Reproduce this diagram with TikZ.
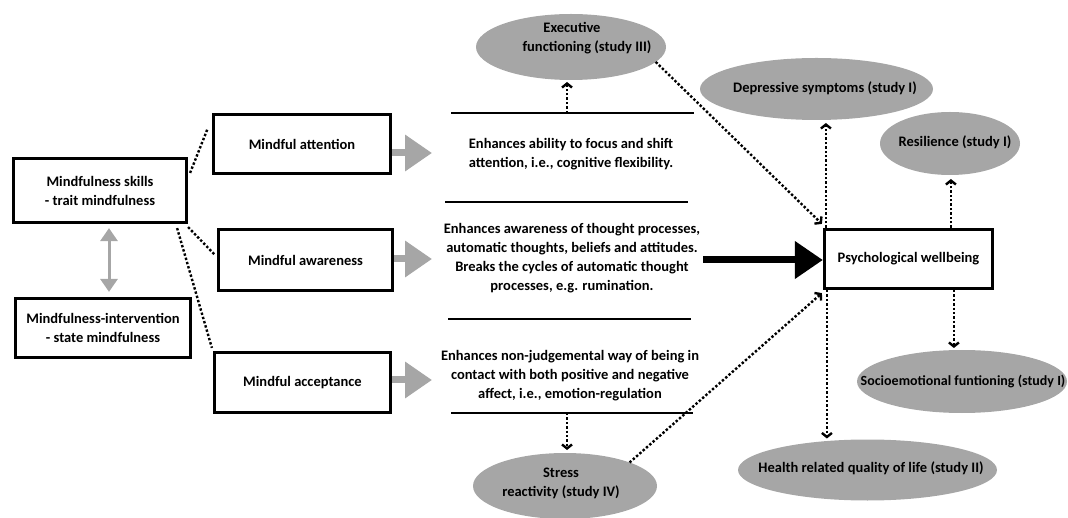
\documentclass[tikz,border=0pt]{standalone}
\usepackage{fontspec}
\setmainfont{Carlito}
\usetikzlibrary{arrows.meta,shapes.geometric,calc}
\definecolor{ggray}{HTML}{A6A6A6}
\begin{document}
\begin{tikzpicture}[x=1pt,y=-1pt,
  font=\bfseries\fontsize{14.5}{19}\selectfont,
  box/.style={draw, line width=3.2pt, align=center, inner sep=0pt},
  ell/.style={ellipse, fill=ggray, draw=none, inner sep=0pt, outer sep=0pt},
  txt/.style={align=center, inner sep=0pt},
  hline/.style={line width=2.8pt},
  dotline/.style={dotted, line width=2.4pt},
  dotarrow/.style={dotted, line width=2.4pt, -{Straight Barb[length=4pt,width=10pt]}},
  grayarrow/.style={ggray, line width=7pt, -{Triangle[length=27pt,width=35pt]}},
  dblarrow/.style={ggray, line width=3pt, {Triangle[length=13pt,width=17pt]}-{Triangle[length=13pt,width=17pt]}},
  bigarrow/.style={black, line width=7pt, -{Triangle[length=28pt,width=36pt]}}
]
\useasboundingbox (0,0) rectangle (1068,518);

% boxes
\node[box, minimum width=173pt, minimum height=64pt] (skills) at (100,190.5) {Mindfulness skills\\- trait mindfulness};
\node[box, minimum width=175pt, minimum height=59pt] (interv) at (103,328) {Mindfulness-intervention\\- state mindfulness};
\node[box, minimum width=177pt, minimum height=59pt] (attn) at (302,144) {Mindful attention};
\node[box, minimum width=174pt, minimum height=61pt] (aware) at (305.5,260) {Mindful awareness};
\node[box, minimum width=176pt, minimum height=60pt] (accept) at (302.5,382.5) {Mindful acceptance};
\node[box, minimum width=168pt, minimum height=59pt] (wb) at (908.5,259) {Psychological wellbeing};

% ellipses
\node[ell, minimum width=190pt, minimum height=66pt] (exec) at (571,47) {};
\node[txt] (exect) at (587,38) {Executive\hspace*{30pt}\\functioning (study III)};
\node[ell, minimum width=233pt, minimum height=62pt] (dep) at (816.5,89) {};
\node[txt] (dept) at (825,88) {Depressive symptoms (study I)};
\node[ell, minimum width=140pt, minimum height=63pt] (res) at (950,143.5) {};
\node[txt] (rest) at (955,142) {Resilience (study I)};
\node[ell, minimum width=210pt, minimum height=63pt] (soc) at (962,381.5) {};
\node[txt, font=\bfseries\fontsize{14}{19}\selectfont] (soct) at (963,381) {Socioemotional funtioning (study I)};
\node[ell, minimum width=259pt, minimum height=61pt] (health) at (867.5,470) {};
\node[txt] (healtht) at (871,468) {Health related quality of life (study II)};
\node[ell, minimum width=184pt, minimum height=66pt] (stress) at (565,486) {};
\node[txt] (stresst) at (561,483) {Stress\\reactivity (study IV)};

% middle texts
\node[txt] (t1) at (571,154) {Enhances ability to focus and shift\\attention, i.e., cognitive flexibility.};
\node[txt] (t2) at (572,258) {Enhances awareness of thought processes,\\automatic thoughts, beliefs and attitudes.\\Breaks the cycles of automatic thought\\processes, e.g. rumination.};
\node[txt] (t3) at (570,376) {Enhances non-judgemental way of being in\\contact with both positive and negative\\affect, i.e., emotion-regulation};

% horizontal lines
\draw[hline] (451,113) -- (694,113);
\draw[hline] (445,202) -- (688,202);
\draw[hline] (448,319) -- (691,319);
\draw[hline] (451,413) -- (693,413);
\coordinate (l1) at (567,113);
\coordinate (l4) at (567,413);

% dotted lines from skills
\draw[dotline] ($(skills.north east)+(2,16)$) -- ($(attn.north west)+(-4,15)$);
\draw[dotline] ($(skills.south east)+(0,3)$) -- ($(aware.north west)+(-2,27)$);
\draw[dotline] ($(skills.south east)+(-11,4)$) -- ($(accept.north west)+(-1,-3)$);

% gray double arrow
\coordinate (d1) at ($(skills.south)+(9,4)$);
\coordinate (d2) at ($(interv.north)+(6,-5)$);
\draw[dblarrow] (d1) -- (d2);

% gray block arrows
\coordinate (g1) at (432,153);
\coordinate (g2) at (432,259);
\coordinate (g3) at (432,380);
\draw[grayarrow] (attn.east |- g1) -- (g1);
\draw[grayarrow] (aware.east |- g2) -- (g2);
\draw[grayarrow] (accept.east |- g3) -- (g3);

% big black arrow
\coordinate (bs) at (703,260);
\draw[bigarrow] (bs) -- (bs -| wb.west);

% dotted arrows
\draw[dotarrow] (l1) -- ($(l1 |- exec.south)+(0,2)$);
\draw[dotarrow] (exec.-10) -- ($(wb.north west)+(-1,-4)$);
\coordinate (w1) at ($(wb.north west)+(3,0)$);
\draw[dotarrow] (w1) -- ($(w1 |- dep.south)+(0,3)$);
\coordinate (w2) at ($(wb.north west)+(128,0)$);
\draw[dotarrow] (w2) -- ($(w2 |- res.south)+(0,4)$);
\coordinate (w3) at ($(wb.south west)+(131,0)$);
\draw[dotarrow] (w3) -- ($(w3 |- soc.north)+(0,-2)$);
\coordinate (w4) at ($(wb.south west)+(4,0)$);
\draw[dotarrow] (w4) -- ($(w4 |- health.north)+(0,-1)$);
\draw[dotarrow] (l4) -- ($(l4 |- stress.north)+(0,-3)$);
\draw[dotarrow] (stress.20) -- ($(wb.south west)+(-1,3)$);
\end{tikzpicture}
\end{document}
